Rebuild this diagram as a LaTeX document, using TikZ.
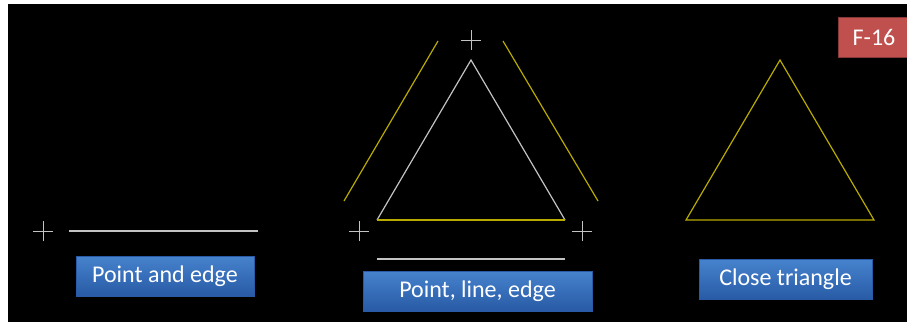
\documentclass[tikz,border=0pt]{standalone}
\usepackage{fontspec}
\setmainfont{Carlito}
\usetikzlibrary{positioning}
\definecolor{edgegray}{RGB}{195,195,195}
\definecolor{edgeyellow}{RGB}{185,170,0}
\definecolor{btnblue}{RGB}{70,130,205}
\definecolor{btndark}{RGB}{40,90,165}
\definecolor{tagred}{RGB}{192,80,77}

\begin{document}
\begin{tikzpicture}[
  x=1pt, y=-1pt,
  font=\fontsize{24}{28}\selectfont,
  button/.style={draw=btndark, line width=0.8pt, top color=btnblue, bottom color=btndark,
    text=white, minimum height=40pt, inner sep=0pt},
  tag/.style={draw=tagred!70!black, fill=tagred, text=white, minimum width=72pt, minimum height=40pt, inner sep=0pt},
  grayedge/.style={draw=edgegray, line width=1.2pt},
  yellowedge/.style={draw=edgeyellow, line width=1.2pt},
  cross/.style={draw=edgegray, line width=1pt}
]
% background
\fill[white] (0,0) rectangle (907,322);
\fill[black] (8,4) rectangle (907,322);
\useasboundingbox (0,0) rectangle (907,322);

% markers and vertices
\coordinate (pA) at (43,231);
\coordinate (eA1) at (69,231);
\coordinate (eA2) at (258,231);

\coordinate (pTop) at (471,40);
\coordinate (pLeft) at (359,231);
\coordinate (pRight) at (582,231);
\coordinate (tTop) at (471,60);
\coordinate (tLeft) at (377,220);
\coordinate (tRight) at (565,220);
\coordinate (yL1) at (344,201);
\coordinate (yL2) at (438,41);
\coordinate (yR1) at (503,41);
\coordinate (yR2) at (598,201);
\coordinate (lowL) at (377,259);
\coordinate (lowR) at (565,259);

\coordinate (cTop) at (780,60);
\coordinate (cLeft) at (686,220);
\coordinate (cRight) at (874,220);

% buttons
\node[button, minimum width=178pt] (pointedge) at (165,276) {Point and edge};
\node[button, minimum width=229pt] (pointline) at (477.5,291) {Point, line, edge};
\node[button, minimum width=173pt] (closetri) at (785.5,279.5) {Close triangle};
\node[tag] (figtag) at (874,37) {F-16};

% crosses
\foreach \p in {pA,pTop,pLeft,pRight}
  \draw[cross] ([xshift=-10pt]\p) -- ([xshift=10pt]\p) ([yshift=-10pt]\p) -- ([yshift=10pt]\p);

% point and edge
\draw[grayedge] (eA1) -- (eA2);

% point, line, edge
\draw[grayedge] (tLeft) -- (tTop) -- (tRight);
\draw[yellowedge] (tLeft) -- (tRight);
\draw[yellowedge] (yL1) -- (yL2);
\draw[yellowedge] (yR1) -- (yR2);
\draw[grayedge] (lowL) -- (lowR);

% close triangle
\draw[yellowedge] (cLeft) -- (cTop) -- (cRight) -- cycle;

\end{tikzpicture}
\end{document}
